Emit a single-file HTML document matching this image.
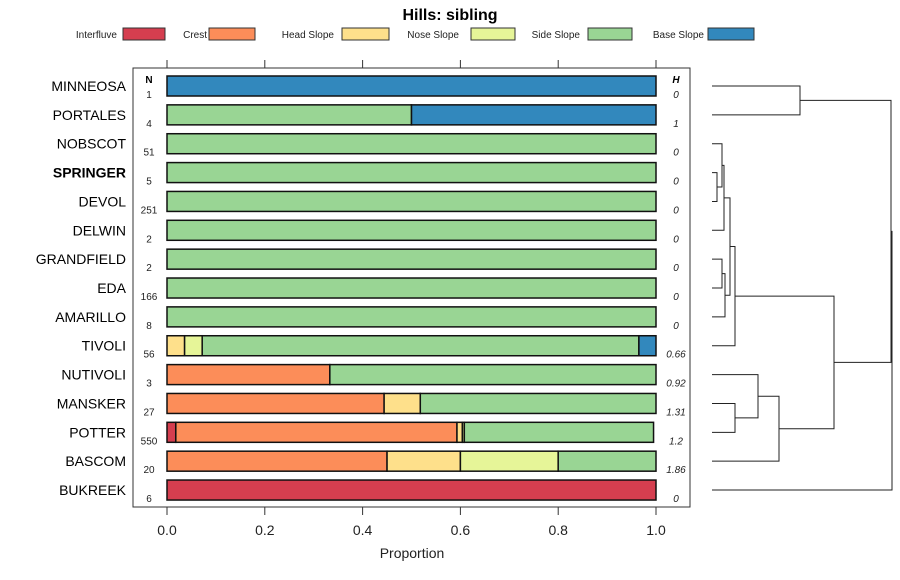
<!DOCTYPE html>
<html><head><meta charset="utf-8"><style>
body{margin:0;background:#fff;}
svg{display:block;font-family:"Liberation Sans",sans-serif;}
</style></head><body>
<svg id="chart" width="900" height="580"></svg>
<script>
const categories=["MINNEOSA","PORTALES","NOBSCOT","SPRINGER","DEVOL","DELWIN","GRANDFIELD","EDA","AMARILLO","TIVOLI","NUTIVOLI","MANSKER","POTTER","BASCOM","BUKREEK"];
const classes=["Interfluve","Crest","Head Slope","Nose Slope","Side Slope","Base Slope"];
const colors=["#D53E4F","#FC8D59","#FEE08B","#E6F598","#99D594","#3288BD"];
const interfluve=[0,0,0,0,0,0,0,0,0,0,0,0,0.018,0,1];
const crest=[0,0,0,0,0,0,0,0,0,0,0.333,0.444,0.575,0.45,0];
const headSlope=[0,0,0,0,0,0,0,0,0,0.036,0,0.074,0.011,0.15,0];
const noseSlope=[0,0,0,0,0,0,0,0,0,0.036,0,0,0.004,0.2,0];
const sideSlope=[0,0.5,1,1,1,1,1,1,1,0.893,0.667,0.482,0.387,0.2,0];
const baseSlope=[1,0.5,0,0,0,0,0,0,0,0.035,0,0,0,0,0];
const nValues=["1","4","51","5","251","2","2","166","8","56","3","27","550","20","6"];
const hValues=["0","1","0","0","0","0","0","0","0","0.66","0.92","1.31","1.2","1.86","0"];
const xTicks=[0,0.2,0.4,0.6,0.8,1.0];
const xTickLabels=["0.0","0.2","0.4","0.6","0.8","1.0"];
// dendrogram merges: [leftNode, rightNode, height]; leaves 0..14, merged nodes 15+
const merges=[[0,1,0.44],[3,4,0.025],[2,16,0.05],[17,5,0.06],[6,7,0.05],[19,8,0.065],[18,20,0.09],[21,9,0.115],[11,12,0.115],[10,23,0.23],[24,13,0.335],[22,25,0.61],[15,26,0.895],[27,14,0.9]];

const NS="http://www.w3.org/2000/svg";
const svg=document.getElementById('chart');
function mk(t,a,p){const e=document.createElementNS(NS,t);for(const k in a)e.setAttribute(k,a[k]);(p||svg).appendChild(e);return e;}
const x=v=>167+v*489;
const y=i=>86+i*28.86;
const dx=h=>712+h*200;

let t=mk('text',{x:450,y:20,'text-anchor':'middle','font-size':16,'font-weight':'bold',fill:'#000'});t.textContent="Hills: sibling";


const legTextEnd=[117,209,334,459,580,704];
const legBoxX=[123,209,342,471,588,708];
const legW=[42,46,47,44,44,46];
classes.forEach((c,k)=>{
  const g=mk('g',{});
  
  
  const tx=mk('text',{x:legTextEnd[k]-(k==1?2:0),y:38,'text-anchor':'end','font-size':10,fill:'#222'},g);tx.textContent=c;
  mk('rect',{x:legBoxX[k],y:28,width:legW[k],height:12,fill:colors[k],stroke:'#333','stroke-width':1},g);
});

const frame=mk('rect',{x:133,y:68,width:557,height:439,fill:'none',stroke:'#333','stroke-width':1});

xTicks.forEach((v,k)=>{
  mk('line',{x1:x(v),x2:x(v),y1:60,y2:68,stroke:'#333'});
  mk('line',{x1:x(v),x2:x(v),y1:507,y2:515,stroke:'#333'});
  const l=mk('text',{x:x(v),y:535,'text-anchor':'middle','font-size':14,fill:'#222'});l.textContent=xTickLabels[k];
  
});
t=mk('text',{x:412,y:558,'text-anchor':'middle','font-size':14,fill:'#222'});t.textContent="Proportion";

t=mk('text',{x:149,y:83,'text-anchor':'middle','font-size':10,'font-weight':'bold'});t.textContent="N";

t=mk('text',{x:676,y:83,'text-anchor':'middle','font-size':10,'font-weight':'bold','font-style':'italic'});t.textContent="H";


const series=[interfluve,crest,headSlope,noseSlope,sideSlope,baseSlope];
categories.forEach((c,i)=>{
  const cy=y(i);
  const lab=mk('text',{x:126,y:cy+5,'text-anchor':'end','font-size':14,fill:'#000','font-weight':c==="SPRINGER"?'bold':'normal'});lab.textContent=c;
  
  const n=mk('text',{x:149,y:cy+12,'text-anchor':'middle','font-size':10,fill:'#222'});n.textContent=nValues[i];
  
  const h=mk('text',{x:676,y:cy+12,'text-anchor':'middle','font-size':10,'font-style':'italic',fill:'#222'});h.textContent=hValues[i];
  
  let cum=0;
  series.forEach((s,k)=>{
    if(s[i]<=0)return;
    const r=mk('rect',{x:x(cum),y:cy-10,width:x(cum+s[i])-x(cum),height:20,fill:colors[k],stroke:'#111','stroke-width':1.5});
    
    cum+=s[i];
  });
});

// dendrogram
const nodeY={},nodeH={};
categories.forEach((c,i)=>{nodeY[i]=y(i);nodeH[i]=0;});
merges.forEach((m,k)=>{
  const id=categories.length+k,[a,b,hh]=m;
  const X=dx(hh);
  const p=mk('path',{d:`M${dx(nodeH[a])},${nodeY[a]}H${X}V${nodeY[b]}H${dx(nodeH[b])}`,fill:'none',stroke:'#222','stroke-width':1});
  
  nodeY[id]=(nodeY[a]+nodeY[b])/2;nodeH[id]=hh;
});
</script>
</body></html>
